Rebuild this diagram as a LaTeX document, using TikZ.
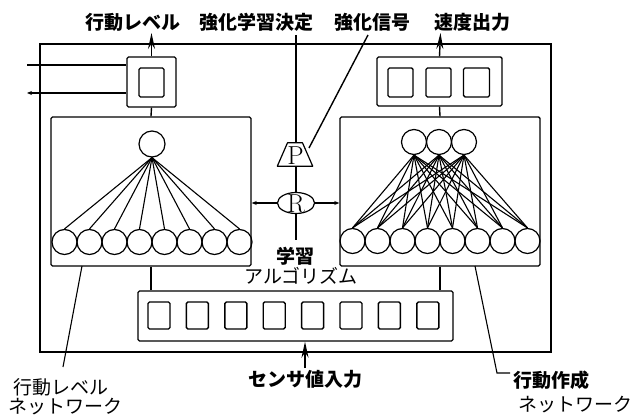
\documentclass[tikz,border=0pt]{standalone}
\usepackage{fontspec}
\newfontfamily\jp{Noto Sans CJK JP}
\newfontfamily\lmr{Latin Modern Roman}
\usetikzlibrary{shapes.geometric,arrows.meta,calc}
\tikzset{
  ln/.style={line width=1.4pt},
  frame/.style={draw, line width=2pt},
  bx/.style={draw, line width=1.4pt, inner sep=0pt, rounded corners=1.5pt},
  neur/.style={draw, circle, line width=1.2pt, inner sep=0pt, minimum size=25pt},
  sq/.style={draw, line width=1.4pt, inner sep=0pt, rounded corners=1.5pt},
  lbl/.style={font=\jp\bfseries\fontsize{19}{21}\selectfont, inner sep=0pt},
  lblr/.style={font=\jp\fontsize{19}{21}\selectfont, inner sep=0pt},
  arr/.style={ln, -{Stealth[length=16pt, width=7pt]}},
  sarr/.style={ln, -{Stealth[length=5pt, width=4pt]}},
  wire/.style={line width=1.1pt},
  letter/.style={inner sep=0pt, font=\lmr\fontsize{26}{26}\selectfont}
}
\begin{document}
\begin{tikzpicture}[x=1pt, y=-1pt]
\useasboundingbox (0,0) rectangle (634,419);
% outer frame
\node[frame, inner sep=0pt, minimum width=511pt, minimum height=308pt] (outer) at (295.5,198) {};
% top boxes
\node[bx, minimum width=49pt, minimum height=50pt] (lbox) at (151.5,82) {};
\node[sq, minimum width=25pt, minimum height=29pt] (lsq) at (151.5,82.5) {};
\node[bx, minimum width=125pt, minimum height=49pt] (rbox) at (439.5,81.5) {};
\node[sq, minimum width=25pt, minimum height=29pt] (rsq1) at (400.5,82.5) {};
\node[sq, minimum width=25pt, minimum height=29pt] (rsq2) at (438.5,82.5) {};
\node[sq, minimum width=26pt, minimum height=29pt] (rsq3) at (476.5,82.5) {};
% network boxes
\node[bx, minimum width=200pt, minimum height=149pt] (lnet) at (151,191.5) {};
\node[bx, minimum width=200pt, minimum height=149pt] (rnet) at (440,191.5) {};
% sensor box
\node[bx, minimum width=315pt, minimum height=50pt] (sens) at (295.5,316) {};
\foreach \i in {0,...,7} {
  \node[sq, minimum width=22pt, minimum height=27pt] (s\i) at (159+38.4*\i,315.5) {};
}
% left network neurons
\node[neur, minimum size=26pt] (lt) at (152,144) {};
\foreach \i in {0,...,7} {
  \node[neur] (lb\i) at (64.5+25*\i,242) {};
  \draw[wire] (lt.south) -- (lb\i.north);
}
% right network neurons
\foreach \j in {0,1,2} {
  \node[neur] (rt\j) at (414+25*\j,142) {};
}
\foreach \i in {0,...,7} {
  \node[neur] (rb\i) at (352.5+25*\i,241) {};
  \foreach \j in {0,1,2} {
    \draw[wire] (rt\j.south) -- (rb\i.north);
  }
}
% P and R
\node[inner sep=0pt, minimum width=35pt, minimum height=23pt] (P) at (295,154.5) {};
\draw[line width=1.2pt, line join=round] (P.south west) -- ($(P.north)+(-7.5,0)$) -- ($(P.north)+(7.5,0)$) -- (P.south east) -- cycle;
\node[letter] (Pt) at (295.5,156) {P};
\node[draw, ellipse, minimum width=37pt, minimum height=21pt, line width=1.2pt, inner sep=0pt] (R) at (296,203) {};
\node[letter] (Rt) at (296,203.5) {R};
% coordinates
\coordinate (lout) at (151.5,33);
\coordinate (rout) at (440.5,33);
\coordinate (in1) at (27,65);
\coordinate (in2) at (27,93);
\coordinate (dtop) at (296,35);
\coordinate (rbot) at (296,240);
\coordinate (sigA) at (368,35);
\coordinate (sigB) at (309,148);
\coordinate (sensin) at (305,368);
\coordinate (llA) at (82,266);
\coordinate (llB) at (63,367);
\coordinate (rlA) at (475,266);
\coordinate (rlB) at (497,373);
\coordinate (rlC) at (510,373);
% connectors
\draw[arr] (lbox.north) -- (lout);
\draw[arr] (rbox.north) -- (rout);
\draw[ln] (in1) -- (in1 -| lbox.west);
\draw[ln, {Stealth[length=5pt,width=4pt]}-] (in2) -- (in2 -| lbox.west);
\draw[ln] (lbox.south) -- (lnet.north);
\draw[ln] (rbox.south) -- (rnet.north);
\draw[ln] (lnet.south) -- (lnet.south |- sens.north);
\draw[ln] (rnet.south) -- (rnet.south |- sens.north);
\draw[ln] (dtop) -- (P.north -| dtop);
\draw[ln] (P.south -| R.north) -- (R.north);
\draw[ln] (R.south) -- (rbot);
\draw[sarr] (R.west) -- (lnet.east |- R.west);
\draw[sarr] (R.east) -- (rnet.west |- R.east);
\draw[ln] (sigA) -- (sigB);
\draw[arr] (sensin) -- (sensin |- sens.south);
\draw[line width=1.1pt] (llA) -- (llB);
\draw[line width=1.1pt] (rlA) -- (rlB) -- (rlC);
% labels
\node[lbl] (t1) at (133,22) {行動レベル};
\node[lbl] (t2) at (256,22) {強化学習決定};
\node[lbl] (t3) at (372,22) {強化信号};
\node[lbl] (t4) at (472,22) {速度出力};
\node[lbl] (t5) at (295,256) {学習};
\node[lblr] (t6) at (301,276) {アルゴリズム};
\node[lblr] (t7) at (61,387) {行動レベル};
\node[lblr] (t8) at (66,407) {ネットワーク};
\node[lbl] (t9) at (305,379) {センサ値入力};
\node[lbl, anchor=west] (t10) at (513,380) {行動作成};
\node[lblr, anchor=west] (t11) at (518,405) {ネットワーク};
\end{tikzpicture}
\end{document}
